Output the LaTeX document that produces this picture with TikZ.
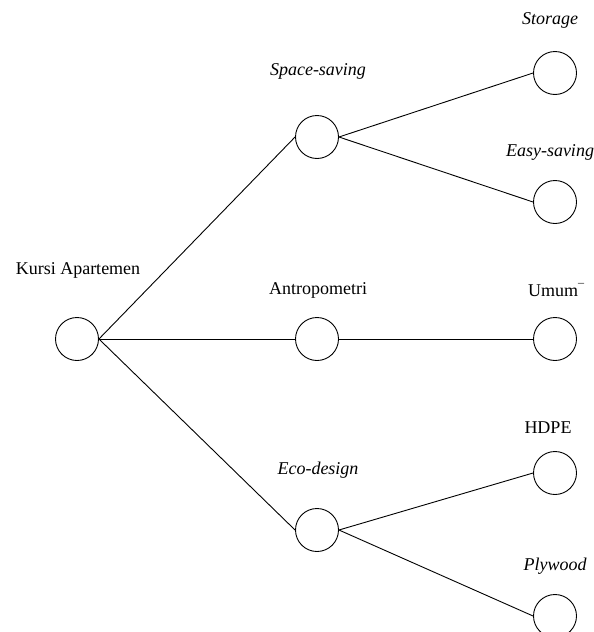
\documentclass[tikz,border=0pt]{standalone}
\usepackage{fontspec}
\setmainfont{Liberation Serif}
\begin{document}
\begin{tikzpicture}[x=1pt,y=-1pt,
  circ/.style={draw,circle,minimum size=43pt,inner sep=0pt,line width=0.9pt},
  lbl/.style={font=\fontsize{18}{20}\selectfont,inner sep=0pt},
  edge/.style={line width=0.9pt}]
\useasboundingbox (0,0) rectangle (594,632);
\node[circ] (root) at (77,339) {};
\node[circ] (ss) at (317,137) {};
\node[circ] (an) at (317,339) {};
\node[circ] (ed) at (317,530) {};
\node[circ] (st) at (555,73) {};
\node[circ] (es) at (555,202) {};
\node[circ] (um) at (555,339) {};
\node[circ] (hd) at (555,473) {};
\node[circ] (pl) at (555,616) {};
\node[lbl] (lroot) at (78,270) {Kursi Apartemen};
\node[lbl] (lss) at (318,71) {\itshape Space-saving};
\node[lbl] (lan) at (318,290) {Antropometri};
\node[lbl] (led) at (318,470) {\itshape Eco-design};
\node[lbl] (lst) at (550,20) {\itshape Storage};
\node[lbl] (les) at (550,152) {\itshape Easy-saving};
\node[lbl, anchor=base] (lum) at (556,296) {Umum\raisebox{4pt}{\fontsize{12}{12}\selectfont ¯}};
\node[lbl] (lhd) at (548,428) {HDPE};
\node[lbl] (lpl) at (555,566) {\itshape Plywood};
\draw[edge] (root.east) -- (ss.west);
\draw[edge] (root.east) -- (an.west);
\draw[edge] (root.east) -- (ed.west);
\draw[edge] (ss.east) -- (st.west);
\draw[edge] (ss.east) -- (es.west);
\draw[edge] (an.east) -- (um.west);
\draw[edge] (ed.east) -- (hd.west);
\draw[edge] (ed.east) -- (pl.west);
\end{tikzpicture}
\end{document}
